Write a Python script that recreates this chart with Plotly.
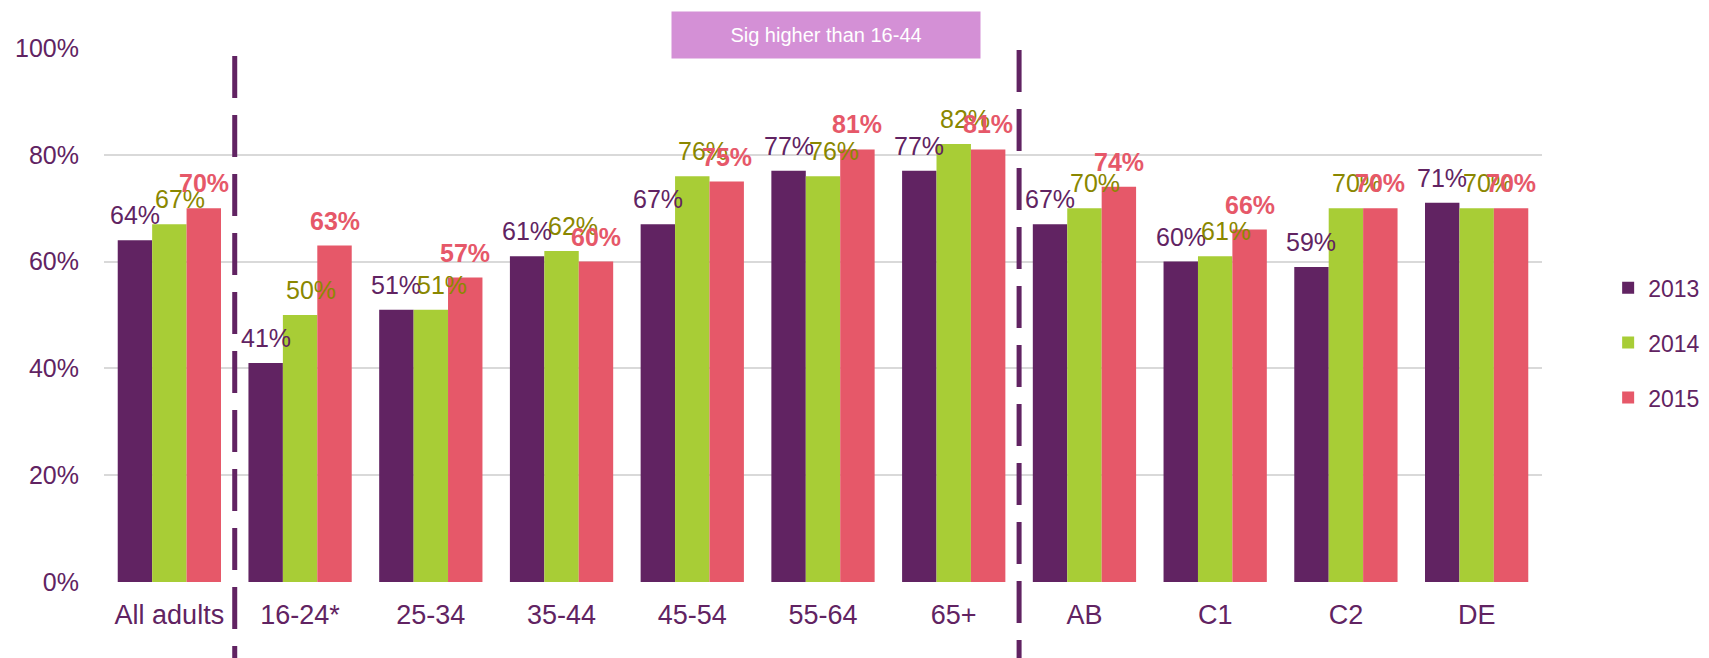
import plotly.graph_objects as go

categories = ["All adults", "16-24*", "25-34", "35-44", "45-54", "55-64", "65+", "AB", "C1", "C2", "DE"]
years = ["2013", "2014", "2015"]
v2013 = [64, 41, 51, 61, 67, 77, 77, 67, 60, 59, 71]
v2014 = [67, 50, 51, 62, 76, 76, 82, 70, 61, 70, 70]
v2015 = [70, 63, 57, 60, 75, 81, 81, 74, 66, 70, 70]
series = [v2013, v2014, v2015]

bar_colors = ["#612362", "#a8cd36", "#e65869"]
label_colors = ["#612362", "#8a8700", "#e65869"]
PURPLE = "#612362"
FONT = "Liberation Sans, Arial, sans-serif"

W, H = 1709, 658
ML, MR, MT, MB = 104, 167, 48, 76
BARGAP = 0.21
plot_w = W - ML - MR
cat_px = plot_w / len(categories)
bar_px = cat_px * (1 - BARGAP) / 3
label_xshift = [-bar_px, 11, bar_px]

fig = go.Figure()
for i, (yr, vals) in enumerate(zip(years, series)):
    fig.add_trace(go.Bar(
        x=categories, y=vals, name=yr,
        marker=dict(color=bar_colors[i], line=dict(width=0)),
        legendgroup=yr,
    ))
    for c, v in zip(categories, vals):
        txt = f"{v}%"
        if i == 2:
            txt = f"<b>{txt}</b>"
        fig.add_annotation(
            x=c, y=v, text=txt, showarrow=False, xref="x", yref="y",
            xanchor="center", yanchor="bottom", xshift=label_xshift[i], yshift=9,
            font=dict(family=FONT, size=25, color=label_colors[i]),
        )

# dashed separators
for xpos, ytop in [(0.5, (582 - 56) / 534), (6.5, (582 - 50) / 534)]:
    fig.add_shape(type="line", xref="x", yref="paper", x0=xpos, x1=xpos,
                  y0=ytop, y1=(582 - 660) / 534,
                  line=dict(color=PURPLE, width=5, dash="42px,17px"), layer="above")

# significance box
fig.add_annotation(
    x=5.02, xref="x", y=(582 - 35) / 534, yref="paper",
    text="Sig higher than 16-44", showarrow=False,
    width=306, height=44, bgcolor="#d490d6", borderpad=1,
    font=dict(family=FONT, size=20, color="white"),
    xanchor="center", yanchor="middle",
)

fig.update_layout(
    width=W, height=H,
    margin=dict(l=ML, r=MR, t=MT, b=MB, autoexpand=False),
    paper_bgcolor="white", plot_bgcolor="white",
    barmode="group", bargap=BARGAP, bargroupgap=0,
    font=dict(family=FONT, color=PURPLE),
    legend=dict(x=1.046, xanchor="left", y=0.448, yanchor="middle",
                font=dict(size=23, color=PURPLE), tracegroupgap=22,
                bgcolor="rgba(0,0,0,0)", itemwidth=30),
    showlegend=True,
)
fig.update_xaxes(
    type="category", showgrid=False, showline=False, zeroline=False,
    tickfont=dict(size=27, color=PURPLE), ticks="", ticklabelstandoff=14,
    range=[-0.5, len(categories) - 0.5],
)
fig.update_yaxes(
    range=[0, 100], dtick=20, ticksuffix="%", showgrid=True,
    gridcolor="#d9d9d9", gridwidth=1.5, zeroline=False, showline=False,
    tickfont=dict(size=25, color=PURPLE), ticks="", ticklabelstandoff=24,
)

fig.write_html("out.html")
